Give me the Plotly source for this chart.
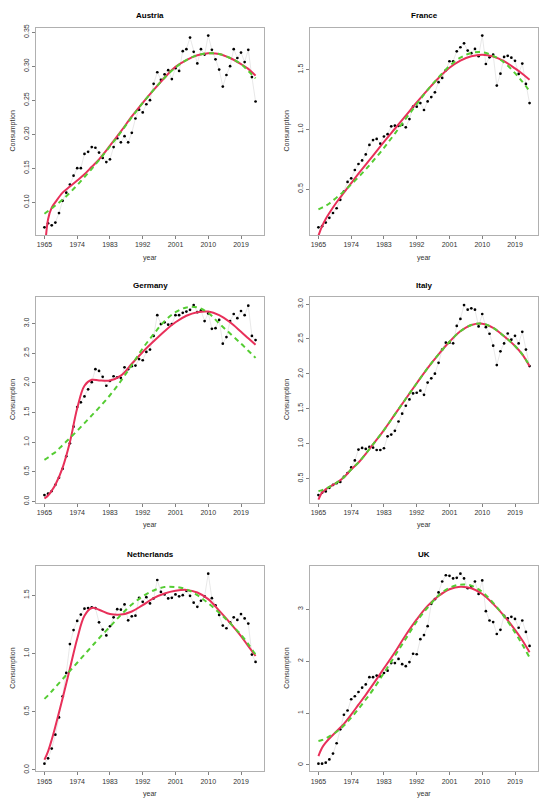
import plotly.graph_objects as go

YEARS = list(range(1965, 2024))
CURVE_YEARS = [1965, 1966, 1967, 1968, 1970, 1972, 1974, 1976, 1978, 1980, 1983, 1986,
               1989, 1992, 1995, 1998, 2001, 2004, 2007, 2010, 2013, 2016, 2019, 2021, 2023]
X_TICKS = [1965, 1974, 1983, 1992, 2001, 2010, 2019]

COUNTRIES = ["Austria", "France", "Germany", "Italy", "Netherlands", "UK"]

austria = [0.063, 0.069, 0.066, 0.070, 0.084, 0.102, 0.114, 0.126, 0.139, 0.150,
           0.150, 0.171, 0.174, 0.181, 0.180, 0.173, 0.165, 0.159, 0.163, 0.181,
           0.194, 0.188, 0.197, 0.188, 0.202, 0.223, 0.236, 0.232, 0.244, 0.250,
           0.274, 0.291, 0.280, 0.288, 0.294, 0.281, 0.297, 0.293, 0.322, 0.325,
           0.342, 0.321, 0.304, 0.325, 0.317, 0.345, 0.324, 0.310, 0.295, 0.270,
           0.287, 0.300, 0.325, 0.312, 0.320, 0.306, 0.324, 0.284, 0.248]
austria_smooth = [0.020, 0.075, 0.092, 0.100, 0.114, 0.123, 0.132, 0.141, 0.152, 0.163,
                  0.183, 0.204, 0.226, 0.246, 0.265, 0.283, 0.299, 0.309, 0.316, 0.319,
                  0.318, 0.312, 0.303, 0.296, 0.286]
austria_poly = [0.083, 0.087, 0.091, 0.095, 0.104, 0.114, 0.125, 0.137, 0.149, 0.162,
                0.182, 0.203, 0.225, 0.246, 0.265, 0.283, 0.298, 0.309, 0.316, 0.319,
                0.318, 0.312, 0.303, 0.293, 0.282]

france = [0.18, 0.19, 0.22, 0.26, 0.30, 0.34, 0.41, 0.48, 0.56, 0.59,
          0.66, 0.71, 0.74, 0.79, 0.87, 0.91, 0.92, 0.88, 0.94, 0.96,
          1.025, 1.031, 1.028, 1.039, 1.017, 1.086, 1.19, 1.19, 1.22, 1.162,
          1.234, 1.27, 1.31, 1.395, 1.43, 1.494, 1.57, 1.57, 1.653, 1.687,
          1.72, 1.659, 1.637, 1.673, 1.612, 1.785, 1.547, 1.603, 1.625, 1.366,
          1.466, 1.606, 1.615, 1.60, 1.573, 1.464, 1.550, 1.38, 1.22]
france_smooth = [0.11, 0.19, 0.25, 0.30, 0.39, 0.47, 0.55, 0.63, 0.705, 0.78,
                 0.895, 1.005, 1.115, 1.225, 1.33, 1.43, 1.515, 1.575, 1.612, 1.625,
                 1.61, 1.57, 1.51, 1.465, 1.415]
france_poly = [0.33, 0.345, 0.36, 0.38, 0.43, 0.48, 0.54, 0.60, 0.665, 0.735,
               0.845, 0.965, 1.09, 1.21, 1.33, 1.435, 1.53, 1.60, 1.64, 1.645,
               1.615, 1.56, 1.47, 1.40, 1.32]

germany = [0.107, 0.13, 0.174, 0.28, 0.40, 0.55, 0.76, 0.98, 1.26, 1.59,
           1.67, 1.77, 1.89, 2.01, 2.23, 2.20, 2.10, 1.95, 2.03, 2.11,
           2.09, 2.08, 2.26, 2.23, 2.28, 2.29, 2.40, 2.38, 2.52, 2.56,
           2.79, 3.14, 2.99, 3.02, 2.98, 2.99, 3.14, 3.14, 3.18, 3.20,
           3.23, 3.31, 3.19, 3.22, 3.04, 3.17, 2.91, 2.92, 3.06, 2.66,
           2.77, 3.04, 3.16, 3.09, 3.21, 3.14, 3.30, 2.79, 2.72]
germany_smooth = [0.05, 0.10, 0.18, 0.28, 0.57, 1.00, 1.57, 1.95, 2.05, 2.04,
                  2.04, 2.12, 2.32, 2.52, 2.70, 2.87, 3.02, 3.13, 3.19, 3.20,
                  3.14, 3.02, 2.86, 2.75, 2.64]
germany_poly = [0.70, 0.74, 0.79, 0.83, 0.95, 1.07, 1.19, 1.32, 1.45, 1.58,
                1.79, 2.03, 2.30, 2.58, 2.82, 3.04, 3.19, 3.27, 3.27, 3.18,
                3.00, 2.83, 2.66, 2.54, 2.42]

italy = [0.264, 0.297, 0.316, 0.368, 0.41, 0.434, 0.453, 0.524, 0.58, 0.66,
         0.76, 0.916, 0.94, 0.925, 0.954, 0.944, 0.91, 0.91, 0.935, 1.105,
         1.13, 1.185, 1.318, 1.43, 1.544, 1.634, 1.72, 1.73, 1.76, 1.70,
         1.875, 1.937, 2.003, 2.159, 2.348, 2.447, 2.447, 2.438, 2.688, 2.787,
         2.986, 2.92, 2.94, 2.92, 2.68, 2.858, 2.67, 2.575, 2.405, 2.126,
         2.324, 2.437, 2.579, 2.49, 2.546, 2.437, 2.603, 2.348, 2.112]
italy_smooth = [0.20, 0.30, 0.345, 0.38, 0.44, 0.52, 0.63, 0.73, 0.855, 0.99,
                1.195, 1.42, 1.644, 1.866, 2.083, 2.28, 2.46, 2.61, 2.70, 2.72,
                2.66, 2.54, 2.40, 2.28, 2.11]
italy_poly = [0.32, 0.335, 0.355, 0.38, 0.44, 0.52, 0.63, 0.73, 0.855, 0.99,
              1.195, 1.42, 1.644, 1.866, 2.083, 2.28, 2.46, 2.61, 2.70, 2.72,
              2.66, 2.54, 2.40, 2.28, 2.12]

netherlands = [0.054, 0.10, 0.184, 0.303, 0.451, 0.632, 0.833, 1.08, 1.20, 1.279,
               1.333, 1.384, 1.389, 1.395, 1.389, 1.267, 1.205, 1.154, 1.233, 1.31,
               1.38, 1.375, 1.42, 1.284, 1.318, 1.324, 1.477, 1.443, 1.483, 1.429,
               1.472, 1.63, 1.528, 1.506, 1.472, 1.477, 1.506, 1.49, 1.50, 1.537,
               1.494, 1.435, 1.40, 1.452, 1.489, 1.684, 1.474, 1.412, 1.33, 1.239,
               1.216, 1.267, 1.31, 1.287, 1.338, 1.30, 1.256, 0.99, 0.927]
netherlands_smooth = [0.088, 0.16, 0.26, 0.374, 0.615, 0.87, 1.126, 1.324, 1.39, 1.375,
                      1.338, 1.333, 1.36, 1.415, 1.474, 1.514, 1.537, 1.545, 1.523, 1.466,
                      1.367, 1.262, 1.148, 1.063, 0.978]
netherlands_poly = [0.61, 0.64, 0.675, 0.71, 0.78, 0.85, 0.92, 0.99, 1.06, 1.13,
                    1.23, 1.33, 1.42, 1.49, 1.54, 1.57, 1.57, 1.55, 1.50, 1.43,
                    1.35, 1.26, 1.16, 1.08, 0.99]

uk = [0.025, 0.025, 0.044, 0.107, 0.22, 0.418, 0.686, 0.966, 1.048, 1.265,
      1.322, 1.404, 1.487, 1.55, 1.69, 1.69, 1.72, 1.70, 1.77, 1.815,
      1.96, 1.96, 2.04, 1.94, 1.90, 1.98, 2.14, 2.13, 2.42, 2.50,
      2.67, 3.10, 3.19, 3.32, 3.53, 3.65, 3.64, 3.59, 3.60, 3.68,
      3.59, 3.40, 3.43, 3.53, 3.29, 3.55, 2.96, 2.78, 2.75, 2.52,
      2.60, 2.87, 2.82, 2.85, 2.81, 2.64, 2.78, 2.56, 2.29]
uk_smooth = [0.17, 0.33, 0.43, 0.51, 0.65, 0.79, 0.97, 1.16, 1.35, 1.55,
             1.86, 2.17, 2.50, 2.80, 3.06, 3.25, 3.38, 3.43, 3.40, 3.29,
             3.10, 2.87, 2.60, 2.40, 2.17]
uk_poly = [0.46, 0.48, 0.51, 0.55, 0.64, 0.76, 0.91, 1.08, 1.26, 1.45,
           1.77, 2.10, 2.43, 2.76, 3.03, 3.26, 3.41, 3.47, 3.45, 3.33,
           3.12, 2.86, 2.55, 2.32, 2.07]

austria_yticks = [0.10, 0.15, 0.20, 0.25, 0.30, 0.35]
austria_ylabels = ["0.10", "0.15", "0.20", "0.25", "0.30", "0.35"]
france_yticks = [0.5, 1.0, 1.5]
france_ylabels = ["0.5", "1.0", "1.5"]
germany_yticks = [0.0, 0.5, 1.0, 1.5, 2.0, 2.5, 3.0]
germany_ylabels = ["0.0", "0.5", "1.0", "1.5", "2.0", "2.5", "3.0"]
italy_yticks = [0.5, 1.0, 1.5, 2.0, 2.5, 3.0]
italy_ylabels = ["0.5", "1.0", "1.5", "2.0", "2.5", "3.0"]
netherlands_yticks = [0.0, 0.5, 1.0, 1.5]
netherlands_ylabels = ["0.0", "0.5", "1.0", "1.5"]
uk_yticks = [0, 1, 2, 3]
uk_ylabels = ["0", "1", "2", "3"]

SERIES = [
    (austria, austria_smooth, austria_poly, austria_yticks, austria_ylabels),
    (france, france_smooth, france_poly, france_yticks, france_ylabels),
    (germany, germany_smooth, germany_poly, germany_yticks, germany_ylabels),
    (italy, italy_smooth, italy_poly, italy_yticks, italy_ylabels),
    (netherlands, netherlands_smooth, netherlands_poly, netherlands_yticks, netherlands_ylabels),
    (uk, uk_smooth, uk_poly, uk_yticks, uk_ylabels),
]

# The page body has an 8px default margin, so the figure is drawn at (8, 8).
OFF = 8
W, H = 550 - OFF, 807 - OFF
X_PX = [(36, 264), (310, 538)]
ROWS_PX = [(24, 233), (296, 503), (567, 774)]

FONT = "Liberation Sans, Arial, sans-serif"
RED = "#E8305A"
GREEN = "#55CC33"

fig = go.Figure()
annotations = []
layout = {}

for i, (name, (pts, sm, po, yt, yl)) in enumerate(zip(COUNTRIES, SERIES)):
    r, c = divmod(i, 2)
    n = i + 1
    xa = "x" if n == 1 else f"x{n}"
    ya = "y" if n == 1 else f"y{n}"
    top_px, bot_px = (v - OFF for v in ROWS_PX[r])
    left_px, right_px = (v - OFF for v in X_PX[c])
    ydom = (1 - bot_px / H, 1 - top_px / H)
    xdom = (left_px / W, right_px / W)

    fig.add_trace(go.Scatter(x=YEARS, y=pts, mode="lines",
                             line=dict(color="#e2e2e2", width=0.8),
                             xaxis=xa, yaxis=ya, showlegend=False, hoverinfo="skip"))
    fig.add_trace(go.Scatter(x=YEARS, y=pts, mode="markers",
                             marker=dict(color="black", size=2.7),
                             xaxis=xa, yaxis=ya, showlegend=False))
    fig.add_trace(go.Scatter(x=CURVE_YEARS, y=sm, mode="lines",
                             line=dict(color=RED, width=2, shape="spline"),
                             xaxis=xa, yaxis=ya, showlegend=False))
    fig.add_trace(go.Scatter(x=CURVE_YEARS, y=po, mode="lines",
                             line=dict(color=GREEN, width=2, dash="5px,4px", shape="spline"),
                             xaxis=xa, yaxis=ya, showlegend=False))

    ymin, ymax = min(pts), max(pts)
    rng = ymax - ymin
    x0, x1 = YEARS[0], YEARS[-1]
    xr = (x1 - x0) * 0.04

    axis_common = dict(showline=True, linecolor="#b0b0b0", linewidth=1, mirror=True,
                       ticks="outside", ticklen=3, tickcolor="#808080", showgrid=False,
                       zeroline=False, tickfont=dict(family=FONT, size=7, color="#333333"))
    layout["xaxis" if n == 1 else f"xaxis{n}"] = dict(
        domain=list(xdom), anchor=ya, range=[x0 - xr, x1 + xr],
        tickvals=X_TICKS, ticktext=[str(t) for t in X_TICKS], **axis_common)
    layout["yaxis" if n == 1 else f"yaxis{n}"] = dict(
        domain=list(ydom), anchor=xa, range=[ymin - 0.04 * rng, ymax + 0.04 * rng],
        tickvals=yt, ticktext=yl, tickangle=-90, **axis_common)

    cx = (xdom[0] + xdom[1]) / 2
    annotations.append(dict(text=f"<b>{name}</b>", x=cx, y=1 - (top_px - 12) / H,
                            xref="paper", yref="paper", showarrow=False,
                            font=dict(family=FONT, size=8, color="black"),
                            xanchor="center", yanchor="middle"))
    annotations.append(dict(text="year", x=cx, y=1 - (bot_px + 23) / H,
                            xref="paper", yref="paper", showarrow=False,
                            font=dict(family=FONT, size=7, color="#333333"),
                            xanchor="center", yanchor="middle"))
    annotations.append(dict(text="Consumption", x=(left_px - 23) / W,
                            y=(ydom[0] + ydom[1]) / 2,
                            xref="paper", yref="paper", showarrow=False, textangle=-90,
                            font=dict(family=FONT, size=7, color="#333333"),
                            xanchor="center", yanchor="middle"))

fig.update_layout(width=W, height=H, margin=dict(l=0, r=0, t=0, b=0),
                  paper_bgcolor="white", plot_bgcolor="white",
                  annotations=annotations, **layout)

fig.write_html("out.html")
